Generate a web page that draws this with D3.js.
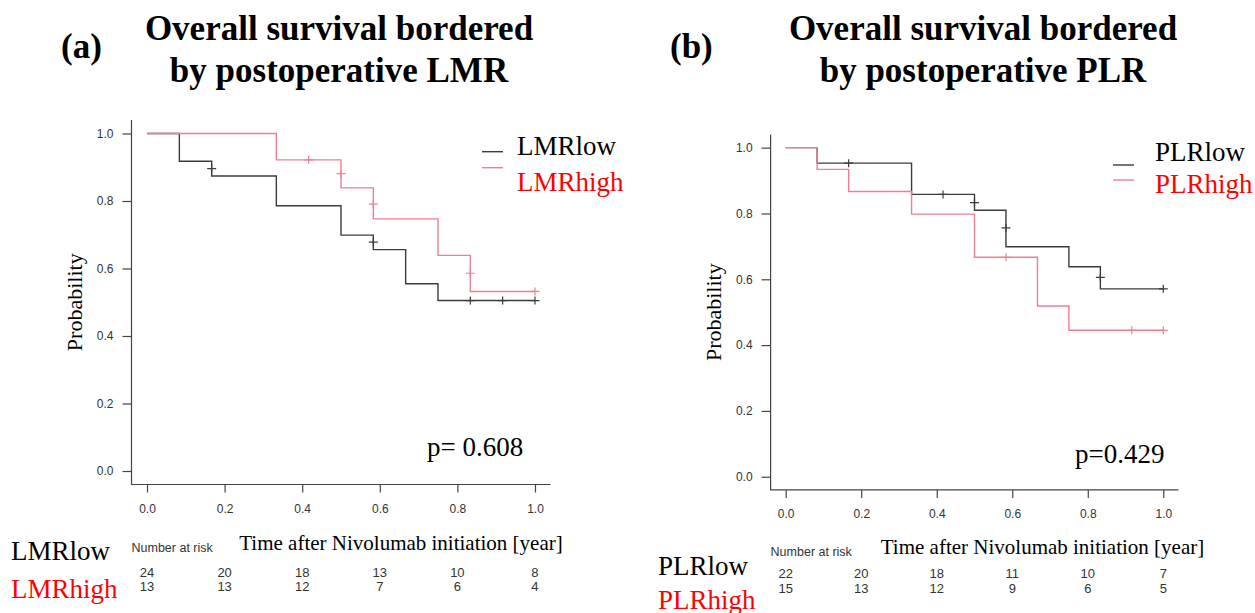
<!DOCTYPE html>
<html>
<head>
<meta charset="utf-8">
<script src="https://cdn.jsdelivr.net/npm/d3@7"></script>
<style>
    body { margin: 0; background: #fff; }
    svg { display: block; }
    .serif { font-family: "Liberation Serif", "Times New Roman", serif; }
    .sans { font-family: "Liberation Sans", Arial, sans-serif; }
</style>
</head>
<body>
<svg id="chart" width="1255" height="613"></svg>
<script>
'use strict';

// Shared axis / risk table time points (years).
var tickValues = [0, 0.2, 0.4, 0.6, 0.8, 1.0];
var riskTimes  = [0, 0.2, 0.4, 0.6, 0.8, 1.0];

// (a) LMR: step curves (time of each step, survival after it) and censor marks.
var lmrLowTimes    = [0, 1 / 12, 2 / 12, 4 / 12, 6 / 12, 7 / 12, 8 / 12, 9 / 12];
var lmrLowSurv     = [1, 0.918, 0.874, 0.786, 0.699, 0.656, 0.555, 0.505];
var lmrLowCensT    = [2 / 12, 7 / 12, 10 / 12, 11 / 12, 1.0];
var lmrLowCensS    = [0.896, 0.678, 0.505, 0.505, 0.505];
var lmrHighTimes   = [0, 4 / 12, 6 / 12, 7 / 12, 9 / 12, 10 / 12];
var lmrHighSurv    = [1, 0.922, 0.839, 0.747, 0.639, 0.532];
var lmrHighCensT   = [5 / 12, 6 / 12, 7 / 12, 10 / 12, 1.0];
var lmrHighCensS   = [0.922, 0.881, 0.791, 0.586, 0.532];
var lmrLowAtRisk   = [24, 20, 18, 13, 10, 8];
var lmrHighAtRisk  = [13, 13, 12, 7, 6, 4];

// (b) PLR
var plrLowTimes    = [0, 1 / 12, 4 / 12, 6 / 12, 7 / 12, 9 / 12, 10 / 12];
var plrLowSurv     = [1, 0.953, 0.858, 0.810, 0.699, 0.638, 0.571];
var plrLowCensT    = [2 / 12, 5 / 12, 6 / 12, 7 / 12, 10 / 12, 1.0];
var plrLowCensS    = [0.953, 0.858, 0.833, 0.756, 0.606, 0.571];
var plrHighTimes   = [0, 1 / 12, 2 / 12, 4 / 12, 6 / 12, 8 / 12, 9 / 12];
var plrHighSurv    = [1, 0.934, 0.867, 0.798, 0.667, 0.519, 0.445];
var plrHighCensT   = [7 / 12, 11 / 12, 1.0];
var plrHighCensS   = [0.667, 0.445, 0.445];
var plrLowAtRisk   = [22, 20, 18, 11, 10, 7];
var plrHighAtRisk  = [15, 13, 12, 9, 6, 5];

var LOW_COLOR  = '#3c3c3c',
    HIGH_COLOR = '#ef7f8f',
    AXIS_COLOR = '#444';

var svg = d3.select('#chart');

function drawPanel(cfg) {
    var g = svg.append('g'),
        x = d3.scaleLinear().domain([-0.04, 1.04]).range(cfg.xRange),
        y = d3.scaleLinear().domain([-0.04, 1.04]).range(cfg.yRange);

    // Titles
    g.append('text').attr('class', 'serif')
        .attr('x', cfg.tagX).attr('y', 58)
        .style('font-size', '35px').style('font-weight', 'bold')
        .text(cfg.tag);

    cfg.title.forEach(function (line, i) {
        g.append('text').attr('class', 'serif')
            .attr('x', cfg.titleX).attr('y', 40 + i * 41.7)
            .attr('text-anchor', 'middle')
            .style('font-size', '35px').style('font-weight', 'bold')
            .text(line);
    });

    // Axes (R style "L" frame)
    var xAxis = g.append('g')
        .attr('transform', 'translate(0,' + y(-0.04) + ')')
        .call(d3.axisBottom(x).tickValues(tickValues).tickFormat(d3.format('.1f')).tickSize(8).tickPadding(12));

    var yAxis = g.append('g')
        .attr('transform', 'translate(' + x(-0.04) + ',0)')
        .call(d3.axisLeft(y).tickValues(tickValues).tickFormat(d3.format('.1f')).tickSize(9).tickPadding(9));

    [xAxis, yAxis].forEach(function (ax) {
        ax.select('.domain').remove();
        ax.selectAll('line').attr('stroke', AXIS_COLOR).attr('stroke-width', 1.2);
        ax.selectAll('text').attr('class', 'sans').attr('fill', '#333').style('font-size', '12px');
    });

    g.append('path')
        .attr('d', 'M' + x(-0.04) + ',' + y(1.04) + 'V' + y(-0.04) + 'H' + x(1.04))
        .attr('fill', 'none').attr('stroke', AXIS_COLOR).attr('stroke-width', 1.2);

    g.append('text').attr('class', 'serif')
        .attr('transform', 'translate(' + cfg.yLabelX + ',' + ((y(1.04) + y(-0.04)) / 2) + ') rotate(-90)')
        .attr('text-anchor', 'middle').attr('dominant-baseline', 'central')
        .style('font-size', '22px')
        .text('Probability');

    // Survival curves
    var line = d3.line()
        .x(function (d) { return x(d[0]); })
        .y(function (d) { return y(d[1]); })
        .curve(d3.curveStepAfter);

    cfg.series.forEach(function (s) {
        var pts = s.times.map(function (t, i) { return [t, s.surv[i]]; });
        pts.push([1.0, s.surv[s.surv.length - 1]]);

        g.append('path')
            .attr('d', line(pts))
            .attr('fill', 'none').attr('stroke', s.color).attr('stroke-width', 1.4);

        g.selectAll(null)
            .data(s.censT.map(function (t, i) { return [t, s.censS[i]]; }))
            .enter().append('path')
            .attr('d', function (d) {
                var cx = x(d[0]), cy = y(d[1]);
                return 'M' + (cx - 4.5) + ',' + cy + 'H' + (cx + 4.5) + 'M' + cx + ',' + (cy - 4) + 'V' + (cy + 4);
            })
            .attr('fill', 'none').attr('stroke', s.color).attr('stroke-width', 1.2);
    });

    // Legend
    cfg.series.forEach(function (s, i) {
        g.append('line')
            .attr('x1', cfg.legend.lineX).attr('x2', cfg.legend.lineX + 21)
            .attr('y1', cfg.legend.lineY[i]).attr('y2', cfg.legend.lineY[i])
            .attr('stroke', s.color).attr('stroke-width', 1.4);

        g.append('text').attr('class', 'serif')
            .attr('x', cfg.legend.textX).attr('y', cfg.legend.textY[i])
            .attr('fill', i === 0 ? '#000' : '#ff0000')
            .style('font-size', '27px')
            .text(s.name);
    });

    g.append('text').attr('class', 'serif')
        .attr('x', cfg.pX).attr('y', cfg.pY)
        .style('font-size', '27px')
        .text(cfg.pText);

    // Number at risk table
    g.append('text').attr('class', 'serif')
        .attr('x', cfg.xLabelX).attr('y', cfg.xLabelY)
        .attr('text-anchor', 'middle')
        .style('font-size', '21px')
        .text('Time after Nivolumab initiation [year]');

    g.append('text').attr('class', 'sans')
        .attr('x', x(-0.04)).attr('y', cfg.nrY)
        .attr('fill', '#333')
        .style('font-size', '12.5px')
        .text('Number at risk');

    cfg.series.forEach(function (s, i) {
        g.append('text').attr('class', 'serif')
            .attr('x', cfg.groupX).attr('y', cfg.groupY[i])
            .attr('fill', i === 0 ? '#000' : '#ff0000')
            .style('font-size', '27px')
            .text(s.name);

        g.selectAll(null)
            .data(riskTimes.map(function (t, j) { return [t, s.atRisk[j]]; }))
            .enter().append('text')
            .attr('class', 'sans')
            .attr('x', function (d) { return x(d[0]); })
            .attr('y', cfg.riskY[i])
            .attr('text-anchor', 'middle')
            .attr('fill', '#333')
            .style('font-size', '13px')
            .text(function (d) { return d[1]; });
    });
}

drawPanel({
    tag: '(a)', tagX: 61, titleX: 339,
    title: ['Overall survival bordered', 'by postoperative LMR'],
    xRange: [131.5, 550.5], yRange: [484.5, 120],
    yLabelX: 74,
    series: [
        {name: 'LMRlow', color: LOW_COLOR, times: lmrLowTimes, surv: lmrLowSurv, censT: lmrLowCensT, censS: lmrLowCensS, atRisk: lmrLowAtRisk},
        {name: 'LMRhigh', color: HIGH_COLOR, times: lmrHighTimes, surv: lmrHighSurv, censT: lmrHighCensT, censS: lmrHighCensS, atRisk: lmrHighAtRisk}
    ],
    legend: {lineX: 482, lineY: [151.7, 167.7], textX: 517, textY: [155, 190.7]},
    pText: 'p= 0.608', pX: 427, pY: 456,
    xLabelX: 401, xLabelY: 550,
    nrY: 552,
    groupX: 11, groupY: [560, 597.7],
    riskY: [576.7, 591]
});

drawPanel({
    tag: '(b)', tagX: 670, titleX: 983,
    title: ['Overall survival bordered', 'by postoperative PLR'],
    xRange: [770.6, 1178.4], yRange: [489.9, 134.5],
    yLabelX: 713,
    series: [
        {name: 'PLRlow', color: LOW_COLOR, times: plrLowTimes, surv: plrLowSurv, censT: plrLowCensT, censS: plrLowCensS, atRisk: plrLowAtRisk},
        {name: 'PLRhigh', color: HIGH_COLOR, times: plrHighTimes, surv: plrHighSurv, censT: plrHighCensT, censS: plrHighCensS, atRisk: plrHighAtRisk}
    ],
    legend: {lineX: 1113, lineY: [165, 180], textX: 1155, textY: [160.7, 193.3]},
    pText: 'p=0.429', pX: 1075, pY: 463.3,
    xLabelX: 1042.5, xLabelY: 554.3,
    nrY: 555.7,
    groupX: 658, groupY: [575, 609],
    riskY: [578.3, 593.3]
});
</script>
</body>
</html>
